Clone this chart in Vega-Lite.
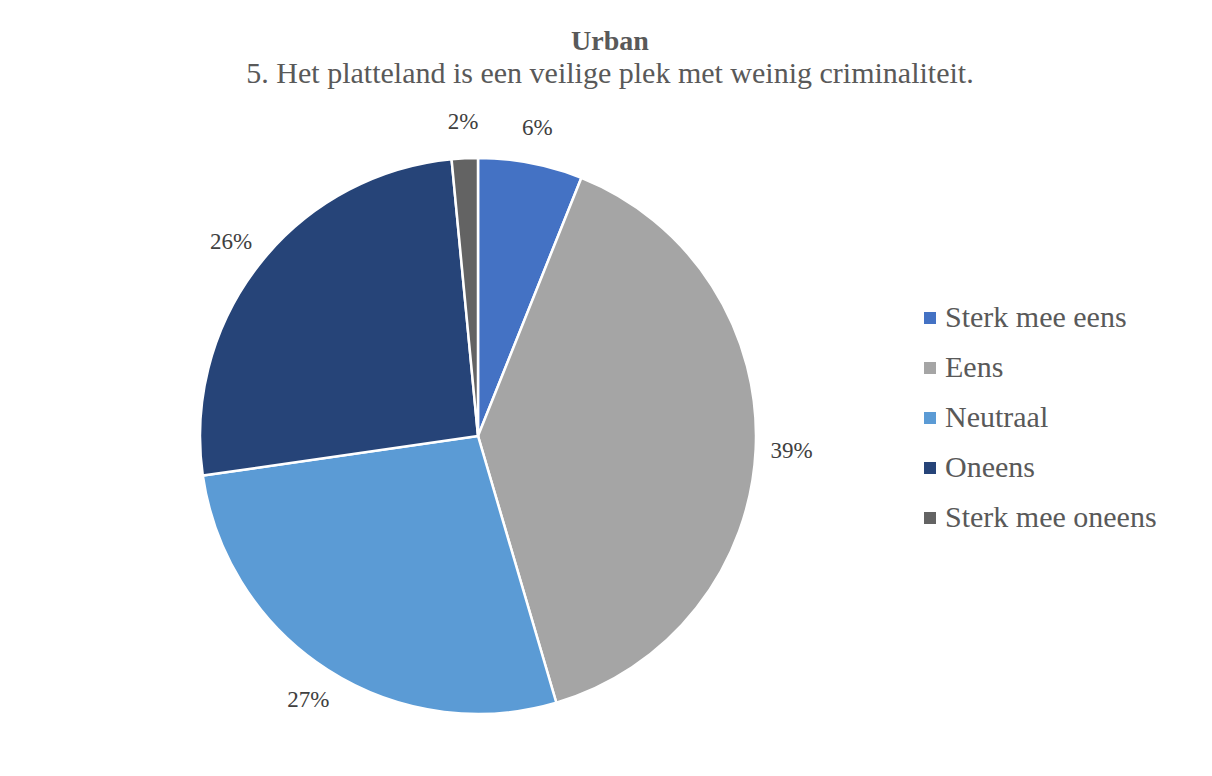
{
  "$schema": "https://vega.github.io/schema/vega-lite/v6.json",
  "width": 556,
  "height": 556,
  "autosize": "none",
  "padding": {"left": 200, "top": 158, "right": 456, "bottom": 62},
  "background": "white",
  "title": {
    "text": "Urban",
    "subtitle": "5. Het platteland is een veilige plek met weinig criminaliteit.",
    "anchor": "middle",
    "dx": 132,
    "offset": 22,
    "font": "Liberation Serif",
    "fontSize": 28,
    "fontWeight": "bold",
    "color": "#595959",
    "subtitleFont": "Liberation Serif",
    "subtitleFontSize": 30,
    "subtitleColor": "#595959",
    "subtitlePadding": 3
  },
  "data": {
    "values": [
      {"idx": 1, "cat": "Sterk mee eens", "count": 4, "pct": "6%"},
      {"idx": 2, "cat": "Eens", "count": 26, "pct": "39%"},
      {"idx": 3, "cat": "Neutraal", "count": 18, "pct": "27%"},
      {"idx": 4, "cat": "Oneens", "count": 17, "pct": "26%"},
      {"idx": 5, "cat": "Sterk mee oneens", "count": 1, "pct": "2%"}
    ]
  },
  "encoding": {
    "theta": {"field": "count", "type": "quantitative", "stack": true},
    "order": {"field": "idx", "type": "quantitative"}
  },
  "layer": [
    {
      "mark": {"type": "arc", "outerRadius": 278, "stroke": "white", "strokeWidth": 2.5},
      "encoding": {
        "color": {
          "field": "cat",
          "type": "nominal",
          "scale": {
            "domain": ["Sterk mee eens", "Eens", "Neutraal", "Oneens", "Sterk mee oneens"],
            "range": ["#4472C4", "#A5A5A5", "#5B9BD5", "#264478", "#636363"]
          },
          "legend": {
            "title": null,
            "orient": "none",
            "legendX": 715,
            "legendY": 145,
            "labelFont": "Liberation Serif",
            "labelFontSize": 30,
            "labelColor": "#595959",
            "labelLimit": 400,
            "symbolType": "square",
            "symbolSize": 144,
            "symbolStrokeWidth": 0,
            "rowPadding": 20,
            "labelOffset": 0
          }
        }
      }
    },
    {
      "mark": {"type": "text", "radius": 314, "font": "Liberation Serif", "fontSize": 23, "color": "#404040", "align": "center", "baseline": "middle"},
      "encoding": {
        "detail": {"field": "cat", "type": "nominal"},
        "text": {"field": "pct", "type": "nominal"}
      }
    }
  ],
  "config": {"view": {"stroke": null}}
}
